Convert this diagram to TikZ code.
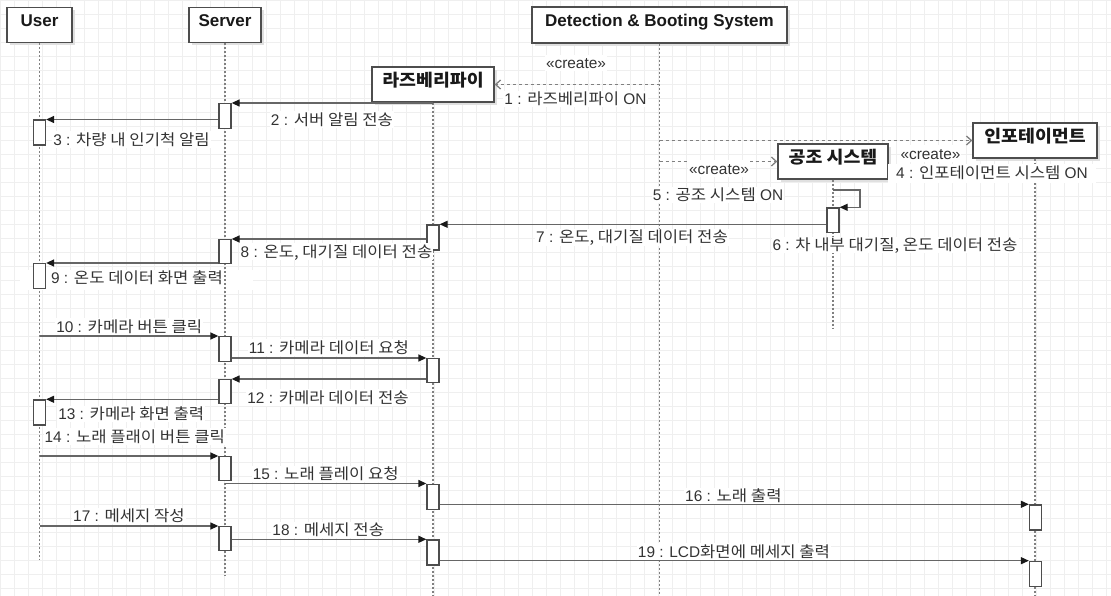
\documentclass[tikz,border=0pt]{standalone}
\usepackage{fontspec}
\setmainfont{Liberation Sans}
\newfontfamily\krfont{Noto Sans CJK KR}[FakeStretch=1.08]
\newcommand\hk[1]{{\krfont #1}}
\usetikzlibrary{arrows.meta,shadows}
\definecolor{txt}{HTML}{333333}
\definecolor{edgec}{HTML}{666666}
\definecolor{bord}{HTML}{4D4D4D}
\definecolor{life}{HTML}{808080}
\definecolor{gridc}{HTML}{EFEFEF}
\begin{document}
\begin{tikzpicture}[x=1pt,y=-1pt,
 head/.style={draw=bord, line width=1.3pt, fill=white, minimum height=35pt, inner sep=0pt,
   text height=12pt, text depth=8pt, font=\fontsize{17}{20}\selectfont\bfseries, text=black!90,
   drop shadow={shadow xshift=3pt,shadow yshift=-3pt,fill=black!12,opacity=1}},
 act/.style={draw=bord, line width=1.3pt, fill=white, minimum width=12pt, inner sep=0pt, anchor=north},
 lifeline/.style={draw=life, line width=1.3pt, dash pattern=on 2pt off 2pt},
 msg/.style={draw=edgec, line width=1.3pt, -{Triangle[length=8pt,width=7pt,color=black!90]}},
 create/.style={draw=life, line width=1.3pt, dash pattern=on 3pt off 3pt, -{Straight Barb[length=5pt,width=9pt]}},
 lbl/.style={fill=white, inner sep=1pt, text=txt, font=\fontsize{15.4}{18}\selectfont, text height=13pt, text depth=1.6pt},
]
\useasboundingbox (0,0) rectangle (1111,596);
\fill[white] (0,0) rectangle (1111,596);
% grid
\foreach \i in {0,...,79} \draw[gridc, line width=1.5pt] (0.7+14*\i,0) -- (0.7+14*\i,596);
\foreach \j in {0,...,42} \draw[gridc, line width=1.5pt] (0,0.7+14*\j) -- (1111,0.7+14*\j);
% label 9 background band
\fill[white] (20,270) rectangle (253,290);

% lifeline heads
\node[head, minimum width=65pt] (user) at (39.5,25) {User};
\node[head, minimum width=72pt] (server) at (225,25) {Server};
\node[head, minimum width=255pt, minimum height=36pt] (dbs) at (659.5,25) {Detection \& Booting System};
\node[head, minimum width=122pt] (rasp) at (433,84.5) {\hk{라즈베리파이}};
\node[head, minimum width=110pt] (gongjo) at (833,161.5) {\hk{공조 시스템}};
\node[head, minimum width=124pt] (info) at (1035,140.5) {\hk{인포테이먼트}};

% lifeline ends
\coordinate (userEnd) at (39.5,560);
\coordinate (serverEnd) at (225,576);
\coordinate (dbsEnd) at (659.5,600);
\coordinate (raspEnd) at (433,600);
\coordinate (gongjoEnd) at (833,328);
\coordinate (infoEnd) at (1035,600);
\draw[lifeline] (user.south) -- (userEnd);
\draw[lifeline] (server.south) -- (serverEnd);
\draw[lifeline] (dbs.south) -- (dbsEnd);
\draw[lifeline] (rasp.south) -- (raspEnd);
\draw[lifeline] (gongjo.south) -- (gongjoEnd);
\draw[lifeline] (info.south) -- (infoEnd);

% activations
\node[act, minimum height=25pt] (s1) at (225,103) {};
\node[act, minimum height=24pt] (s2) at (225,239) {};
\node[act, minimum height=25pt] (s3) at (225,336) {};
\node[act, minimum height=24pt] (s4) at (225,379) {};
\node[act, minimum height=24pt] (s5) at (225,456) {};
\node[act, minimum height=24pt] (s6) at (225,526) {};
\node[act, minimum height=25pt] (u1) at (39.5,119.5) {};
\node[act, minimum height=25pt] (u2) at (39.5,263) {};
\node[act, minimum height=25pt] (u3) at (39.5,399.3) {};
\node[act, minimum height=25pt] (r1) at (433,224.3) {};
\node[act, minimum height=24pt] (r2) at (433,358) {};
\node[act, minimum height=25pt] (r3) at (433,483.5) {};
\node[act, minimum height=25pt] (r4) at (433,539.3) {};
\node[act, minimum height=24.4pt] (g1) at (833,207.3) {};
\node[act, minimum height=25pt] (i1) at (1035.5,504.3) {};
\node[act, minimum height=25pt] (i2) at (1035.5,560.7) {};

% messages
\draw[create] (dbs.south |- rasp.east) -- (rasp.east);
\draw[msg] (rasp.south |- s1.north) -- (s1.north east);
\draw[msg] (s1.west |- u1.north) -- (u1.north east);
\draw[create] (dbs.south |- info.west) -- (info.west);
\draw[create] (dbs.south |- gongjo.west) -- (gongjo.west);
\coordinate (g5) at (833,190);
\draw[msg] (g5) -- ++(27,0) |- (g1.north east);
\draw[msg] (g1.west |- r1.north) -- (r1.north east);
\draw[msg] (r1.west |- s2.north) -- (s2.north east);
\draw[msg] (s2.west |- u2.north) -- (u2.north east);
\draw[msg] (user.south |- s3.north) -- (s3.north west);
\draw[msg] (s3.east |- r2.north) -- (r2.north west);
\draw[msg] (r2.west |- s4.north) -- (s4.north east);
\draw[msg] (s4.west |- u3.north) -- (u3.north east);
\draw[msg] (user.south |- s5.north) -- (s5.north west);
\draw[msg] (server.south |- r3.north) -- (r3.north west);
\draw[msg] (r3.east |- i1.north) -- (i1.north west);
\draw[msg] (user.south |- s6.north) -- (s6.north west);
\draw[msg] (s6.east |- r4.north) -- (r4.north west);
\draw[msg] (r4.east |- i2.north) -- (i2.north west);

% labels
\node[lbl] (lc1) at (576,63) {«create»};
\node[lbl] (l1) at (575.5,99) {1 : \hk{라즈베리파이} ON};
\node[lbl] (l2) at (332,119.5) {2 : \hk{서버 알림 전송}};
\node[lbl] (l3) at (131.5,139.7) {3 : \hk{차량 내 인기척 알림}};
\node[lbl] (lc4) at (930.5,153.5) {«create»};
\node[lbl, inner xsep=8pt, inner ysep=2pt] (l4) at (992,173.3) {4 : \hk{인포테이먼트 시스템} ON};
\node[lbl] (lc5) at (719,168.5) {«create»};
\node[lbl] (l5) at (718,195) {5 : \hk{공조 시스템} ON};
\node[lbl] (l6) at (895,245) {6 : \hk{차 내부 대기질, 온도 데이터 전송}};
\node[lbl] (l7) at (632,237.3) {7 : \hk{온도, 대기질 데이터 전송}};
\node[lbl] (l8) at (336.5,251.7) {8 : \hk{온도, 대기질 데이터 전송}};
\node[lbl] (l9) at (137,278) {9 : \hk{온도 데이터 화면 출력}};
\node[lbl] (l10) at (129.3,326.7) {10 : \hk{카메라 버튼 클릭}};
\node[lbl] (l11) at (329,347.3) {11 : \hk{카메라 데이터 요청}};
\node[lbl] (l12) at (328,397.3) {12 : \hk{카메라 데이터 전송}};
\node[lbl] (l13) at (131.3,414) {13 : \hk{카메라 화면 출력}};
\node[lbl] (l14) at (134.8,436.7) {14 : \hk{노래 플래이 버튼 클릭}};
\node[lbl] (l15) at (325.8,474) {15 : \hk{노래 플레이 요청}};
\node[lbl] (l16) at (733.4,496) {16 : \hk{노래 출력}};
\node[lbl] (l17) at (129,516) {17 : \hk{메세지 작성}};
\node[lbl] (l18) at (328.3,530) {18 : \hk{메세지 전송}};
\node[lbl] (l19) at (734,551.7) {19 : LCD\hk{화면에 메세지 출력}};
\end{tikzpicture}
\end{document}
